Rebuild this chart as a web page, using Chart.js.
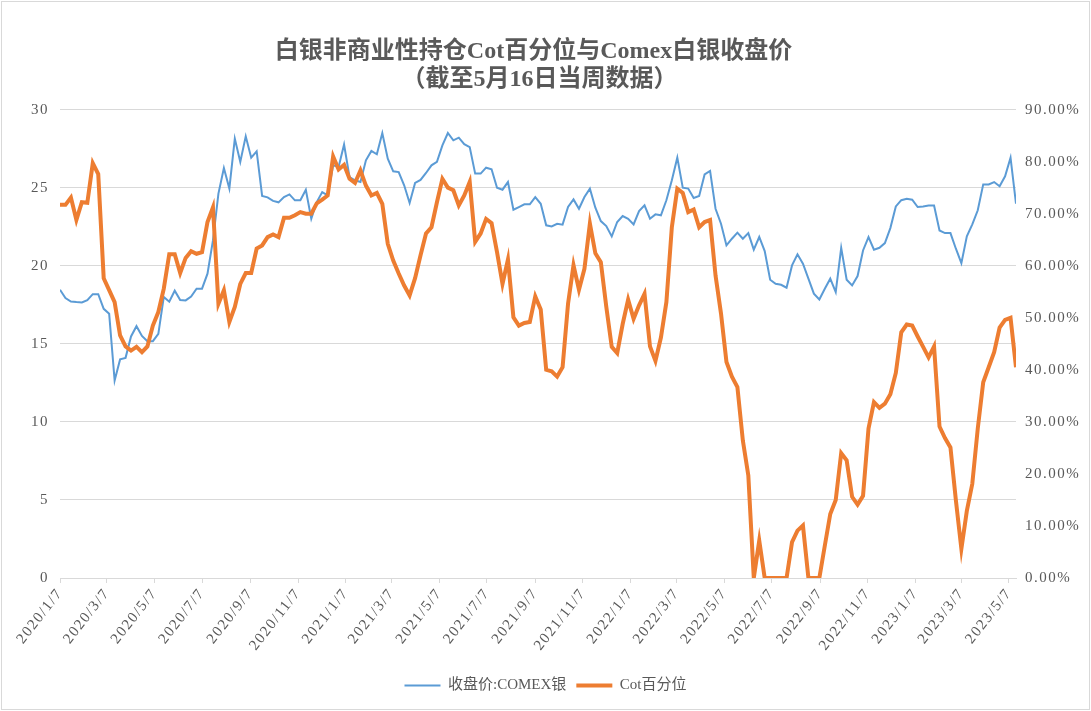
<!DOCTYPE html>
<html><head><meta charset="utf-8">
<script src="https://cdn.jsdelivr.net/npm/chart.js@4"></script>
<style>html,body{margin:0;padding:0;background:#fff}#wrap{width:1091px;height:711px;position:relative}</style>
</head><body><div id="wrap"><canvas id="c" width="1091" height="711"></canvas></div>
<script>
const TITLE_LINES = ['白银非商业性持仓Cot百分位与Comex白银收盘价', '（截至5月16日当周数据）'];
const SERIES_NAMES = ['收盘价:COMEX银', 'Cot百分位'];
const START_DATE = '2020/1/7';
const WEEK_COUNT = 176;
const TICK_LABELS = ['2020/1/7','2020/3/7','2020/5/7','2020/7/7','2020/9/7','2020/11/7','2021/1/7','2021/3/7','2021/5/7','2021/7/7','2021/9/7','2021/11/7','2022/1/7','2022/3/7','2022/5/7','2022/7/7','2022/9/7','2022/11/7','2023/1/7','2023/3/7','2023/5/7'];
const PRICE = [18.46,17.93,17.71,17.67,17.65,17.80,18.18,18.18,17.24,16.92,
12.65,14.0,14.1,15.47,16.13,15.5,15.17,15.17,15.64,18.0,
17.7,18.4,17.8,17.78,18.03,18.53,18.53,19.49,21.62,24.62,
26.26,24.94,28.14,26.65,28.29,26.92,27.33,24.47,24.38,24.15,
24.06,24.4,24.57,24.19,24.19,24.87,23.01,24.08,24.72,24.51,
26.43,26.32,27.76,25.68,25.47,25.36,26.75,27.35,27.14,28.5,
26.86,26.05,26.0,25.15,24.02,25.3,25.5,25.94,26.43,26.65,
27.71,28.5,28.03,28.2,27.78,27.6,25.9,25.9,26.28,26.18,
25.0,24.87,25.36,23.59,23.76,23.93,23.93,24.4,23.97,22.59,
22.52,22.69,22.63,23.76,24.25,23.65,24.4,24.94,23.72,22.86,
22.54,21.88,22.8,23.18,23.01,22.65,23.5,23.87,23.01,23.29,
23.23,24.19,25.47,26.92,25.0,24.94,24.34,24.47,25.85,26.07,
23.65,22.69,21.3,21.73,22.12,21.73,22.09,21.03,21.84,20.94,
19.1,18.85,18.78,18.59,20.02,20.73,20.13,19.17,18.21,17.84,
18.53,19.17,18.31,21.15,19.1,18.74,19.34,20.98,21.84,21.03,
21.15,21.45,22.41,23.8,24.2,24.29,24.23,23.76,23.8,23.85,
23.85,22.26,22.09,22.09,21.09,20.17,21.88,22.65,23.55,25.21,
25.21,25.36,25.09,25.73,26.92,23.97];
const COT_PCT = [71.7,71.7,73.1,68.8,72.2,72.1,79.7,77.6,57.6,55.3,
53.0,46.6,44.5,43.7,44.4,43.4,44.5,48.5,51.1,55.6,
62.2,62.2,58.6,61.5,62.8,62.3,62.6,68.4,71.2,52.7,
55.3,49.2,52.1,56.5,58.6,58.6,63.3,63.9,65.5,66.0,
65.5,69.2,69.2,69.7,70.3,70.0,70.0,72.0,72.7,73.5,
81.0,78.5,79.4,76.7,75.9,78.3,75.4,73.5,74.0,71.9,
64.2,61.0,58.5,56.2,54.3,57.6,62.0,66.2,67.4,72.2,
76.7,75.0,74.5,71.6,73.5,76.1,64.6,66.2,69.0,68.2,
62.6,56.5,61.2,50.1,48.5,49.0,49.2,54.1,51.6,40.0,
39.7,38.7,40.5,52.7,60.1,55.4,59.4,68.1,62.4,60.7,
52.1,44.4,43.2,48.8,53.5,49.8,52.4,54.6,44.5,41.7,
46.2,53.0,67.4,74.8,74.0,70.3,70.8,67.4,68.4,68.8,
58.1,50.8,41.5,38.7,36.7,26.4,19.7,0,7.2,0,
0,0,0,0,6.9,9.1,10.1,0,0,0,
6.2,12.3,15.0,24.0,22.6,15.6,14.1,15.8,28.7,33.8,
32.7,33.5,35.3,39.4,47.2,48.7,48.5,46.4,44.4,42.4,
44.5,29.1,26.9,25.1,14.9,5.6,12.9,18.1,28.7,37.6,
40.5,43.4,48.1,49.6,50.0,40.5];

const dayNum = s => { const [y,m,d] = s.split('/').map(Number); return Date.UTC(y, m-1, d) / 86400000; };
const D0 = dayNum(START_DATE);
const WEEK_DAYS = [];
for (let i = 0; i < WEEK_COUNT; i++) WEEK_DAYS.push(i * 7);
const TICK_DAYS = TICK_LABELS.map(s => dayNum(s) - D0);
const tickLabelOf = {};
TICK_DAYS.forEach((v, i) => tickLabelOf[v] = TICK_LABELS[i]);

const GREY = '#595959';
const GRID = '#d9d9d9';
const SERIF = "'Liberation Serif','Times New Roman','Noto Sans CJK SC',serif";

const framePlugin = {
  id: 'frame',
  beforeDraw(chart) {
    const ctx = chart.ctx;
    ctx.save();
    ctx.fillStyle = '#fff';
    ctx.fillRect(0, 0, chart.width, chart.height);
    ctx.strokeStyle = GRID;
    ctx.lineWidth = 1;
    ctx.strokeRect(1.5, 1.5, chart.width - 3, chart.height - 3);
    ctx.restore();
  },
  afterLayout(chart) {
    Object.values(chart.scales).forEach(scale => {
      if (scale._spaced) return;
      scale._spaced = true;
      const orig = scale.drawLabels;
      scale.drawLabels = function (area) {
        const ctx = this.ctx;
        ctx.save();
        ctx.letterSpacing = '1.5px';
        orig.call(this, area);
        ctx.restore();
      };
    });
  }
};

new Chart(document.getElementById('c'), {
  type: 'line',
  data: {
    datasets: [
      { label: SERIES_NAMES[0], data: WEEK_DAYS.map((x, i) => ({x, y: PRICE[i]})), yAxisID: 'y',
        borderColor: '#5B9BD5', backgroundColor: '#5B9BD5', borderWidth: 2, pointRadius: 0, tension: 0, order: 1 },
      { label: SERIES_NAMES[1], data: WEEK_DAYS.map((x, i) => ({x, y: COT_PCT[i]})), yAxisID: 'y2',
        borderColor: '#ED7D31', backgroundColor: '#ED7D31', borderWidth: 4, pointRadius: 0, tension: 0, order: 0 }
    ]
  },
  options: {
    responsive: false,
    animation: false,
    layout: { padding: { left: 0, right: 0, top: 0, bottom: 8 } },
    plugins: {
      title: {
        display: true, text: TITLE_LINES.map(t => t + '\u3000'), color: GREY,
        font: { family: SERIF, size: 24, weight: 'bold', lineHeight: 1.2 },
        padding: { top: 37, bottom: 15 }
      },
      legend: {
        position: 'bottom',
        labels: {
          color: GREY, font: { family: SERIF, size: 15 },
          usePointStyle: true, pointStyle: 'line', pointStyleWidth: 36, padding: 10,
          sort: (a, b) => a.datasetIndex - b.datasetIndex
        }
      },
      tooltip: { enabled: false }
    },
    scales: {
      x: {
        type: 'linear', min: 0, max: WEEK_DAYS[WEEK_DAYS.length - 1],
        afterBuildTicks: s => { s.ticks = TICK_DAYS.map(v => ({ value: v })); },
        afterFit: s => { s.height = 90; },
        ticks: {
          autoSkip: false, maxRotation: 52, minRotation: 52, padding: 2,
          color: GREY, font: { family: SERIF, size: 15 },
          callback: v => tickLabelOf[v] || ''
        },
        grid: { drawOnChartArea: false, drawTicks: true, tickLength: 5, color: GRID },
        border: { color: GRID }
      },
      y: {
        position: 'left', min: 0, max: 30,
        afterFit: s => { s.width = 60; },
        ticks: { stepSize: 5, padding: 11, color: GREY, font: { family: SERIF, size: 15 } },
        grid: { color: GRID, drawTicks: false },
        border: { display: false }
      },
      y2: {
        position: 'right', min: 0, max: 90,
        afterFit: s => { s.width = 75; },
        ticks: { stepSize: 10, padding: 9, color: GREY, font: { family: SERIF, size: 15 },
          callback: v => Number(v).toFixed(2) + '%' },
        grid: { drawOnChartArea: false, drawTicks: false },
        border: { display: false }
      }
    }
  },
  plugins: [framePlugin]
});
</script></body></html>
